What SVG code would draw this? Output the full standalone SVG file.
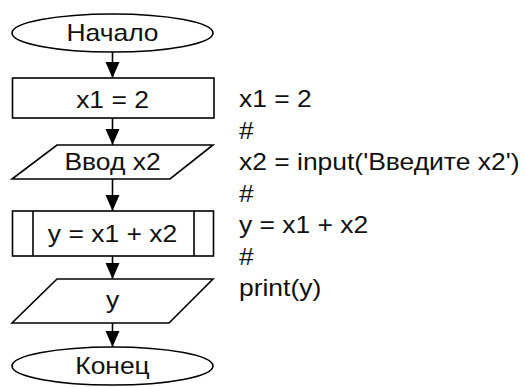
<svg xmlns="http://www.w3.org/2000/svg" width="526" height="387" viewBox="0 0 526 387">
<style>
.s{fill:#fff;stroke:#000;stroke-width:1.6}
.l{fill:none;stroke:#000;stroke-width:1.6}
.t{font-family:"Liberation Sans",Arial,sans-serif;font-size:23px;fill:#111}
.c{text-anchor:middle}
</style>
<defs>
<path id="ah" d="M-7,-16 L7,-16 L0,0 Z" fill="#000"/>
</defs>
<rect width="526" height="387" fill="#fff"/>
<g id="connectors">
<line class="l" x1="112.5" y1="52" x2="112.5" y2="78"/>
<use href="#ah" x="112.5" y="78"/>
<line class="l" x1="112.5" y1="118" x2="112.5" y2="145"/>
<use href="#ah" x="112.5" y="145"/>
<line class="l" x1="112.5" y1="179" x2="112.5" y2="211"/>
<use href="#ah" x="112.5" y="211"/>
<line class="l" x1="112.5" y1="256" x2="112.5" y2="279"/>
<use href="#ah" x="112.5" y="279"/>
<line class="l" x1="112.5" y1="323" x2="112.5" y2="347"/>
<use href="#ah" x="112.5" y="347"/>
</g>
<g id="start">
<ellipse class="s" cx="112.5" cy="33" rx="100.5" ry="19"/>
<text class="t c" transform="translate(112.5,41) scale(1.15,1)">Начало</text>
</g>
<g id="assign">
<rect class="s" x="12.5" y="78" width="201.5" height="40"/>
<text class="t c" transform="translate(112.5,108) scale(1.15,1)">x1 = 2</text>
</g>
<g id="input">
<polygon class="s" points="57,145 213,145 170,179 12,179"/>
<text class="t c" transform="translate(112.5,170) scale(1.15,1)">Ввод x2</text>
</g>
<g id="sum">
<rect class="s" x="12.5" y="211" width="201" height="45"/>
<line class="l" x1="33" y1="211" x2="33" y2="256"/>
<line class="l" x1="194" y1="211" x2="194" y2="256"/>
<text class="t c" transform="translate(112.5,242) scale(1.15,1)">y = x1 + x2</text>
</g>
<g id="output">
<polygon class="s" points="57,279 213,279 169,323 12,323"/>
<text class="t c" transform="translate(112.5,308) scale(1.15,1)">y</text>
</g>
<g id="end">
<ellipse class="s" cx="112.5" cy="366" rx="100.5" ry="19"/>
<text class="t c" transform="translate(112.5,374) scale(1.15,1)">Конец</text>
</g>
<g id="code">
<text class="t" transform="translate(239,107) scale(1.15,1)">x1 = 2</text>
<text class="t" transform="translate(239,138.5) scale(1.15,1)">#</text>
<text class="t" transform="translate(239,170) scale(1.15,1)">x2 = input('Введите x2')</text>
<text class="t" transform="translate(239,201.5) scale(1.15,1)">#</text>
<text class="t" transform="translate(239,233) scale(1.15,1)">y = x1 + x2</text>
<text class="t" transform="translate(239,264.5) scale(1.15,1)">#</text>
<text class="t" transform="translate(239,296) scale(1.15,1)">print(y)</text>
</g>
</svg>
